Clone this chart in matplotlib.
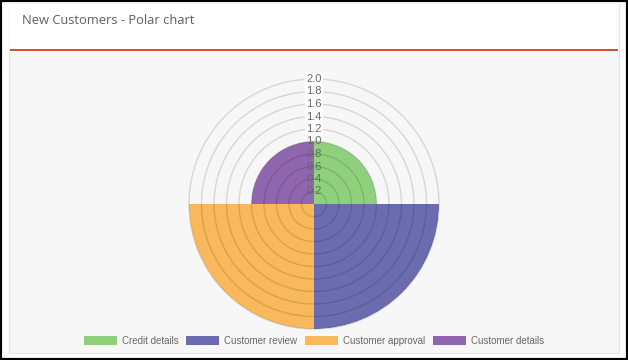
import numpy as np
import matplotlib
matplotlib.use("Agg")
import matplotlib.pyplot as plt
from matplotlib.patches import Rectangle, Patch

categories = ["Credit details", "Customer review", "Customer approval", "Customer details"]
values = [1.0, 2.0, 2.0, 1.0]
colors = ["#8fd07d", "#6b6caf", "#f9b85b", "#8f66ae"]
tick_values = [0.2, 0.4, 0.6, 0.8, 1.0, 1.2, 1.4, 1.6, 1.8, 2.0]
tick_labels = ["0.2", "0.4", "0.6", "0.8", "1.0", "1.2", "1.4", "1.6", "1.8", "2.0"]
title = "New Customers - Polar chart"

W, H = 628, 360
fig = plt.figure(figsize=(W / 100, H / 100), dpi=100)
fig.patch.set_facecolor("white")

def px(x, y, w, h):
    return (x / W, 1 - (y + h) / H, w / W, h / H)

# outer black frame
fig.add_artist(Rectangle((0, 0), 1, 1, transform=fig.transFigure, facecolor="none",
                         edgecolor="black", linewidth=3, zorder=0))
# card body
x0, y0, w0, h0 = px(9, 4, 610, 349)
fig.add_artist(Rectangle((x0, y0), w0, h0, transform=fig.transFigure,
                         facecolor="#f7f7f7", edgecolor="#e6e6e6", linewidth=1, zorder=0))
x1, y1, w1, h1 = px(9, 4, 610, 46)
fig.add_artist(Rectangle((x1, y1), w1, h1, transform=fig.transFigure,
                         facecolor="white", edgecolor="none", zorder=0.5))
x2, y2, w2, h2 = px(10, 48.5, 608, 2)
fig.add_artist(Rectangle((x2, y2), w2, h2, transform=fig.transFigure,
                         facecolor="#d3542a", edgecolor="none", zorder=1))
fig.text(22 / W, 1 - 21 / H, title, fontsize=9.3, color="#5e5e5e",
         family=["Open Sans", "DejaVu Sans"], va="center", ha="left")

# polar axes
cx, cy, R = 314, 204, 125
ax = fig.add_axes([(cx - R) / W, 1 - (cy + R) / H, 2 * R / W, 2 * R / H], projection="polar")
ax.patch.set_visible(False)
ax.set_theta_zero_location("N")
ax.set_theta_direction(-1)
n = len(values)
width = 2 * np.pi / n
thetas = np.arange(n) * width + width / 2
ax.bar(thetas, values, width=width, color=colors, edgecolor="none", zorder=2)
ax.set_ylim(0, 2.0)
ax.set_xticks([])
ax.set_yticks(tick_values)
ax.set_yticklabels([])
ax.grid(False)
theta_full = np.linspace(0, 2 * np.pi, 361)
for v in tick_values:
    ax.plot(theta_full, np.full_like(theta_full, v), color=(0, 0, 0, 0.13), lw=1,
            zorder=3, clip_on=False)
ax.spines["polar"].set_visible(False)
for v, lab in zip(tick_values, tick_labels):
    inside = v <= 1.0
    ax.text(0, v, lab, ha="center", va="center", fontsize=8, color="#666666",
            family=["Liberation Sans", "DejaVu Sans"], zorder=4,
            bbox=None if inside else dict(boxstyle="square,pad=0.1", fc="white", ec="none"))

# legend
handles = [Patch(facecolor=c, edgecolor="none") for c in colors]
leg = fig.legend(handles, categories, ncol=4, loc="center", bbox_to_anchor=(0.5, 1 - 341 / H),
                 frameon=False, handlelength=3.4, handleheight=1.0,
                 handletextpad=0.5, columnspacing=0.8,
                 prop={"family": "Liberation Sans", "size": 7})
for t in leg.get_texts():
    t.set_color("#666666")

fig.savefig("out.png", dpi=100)
